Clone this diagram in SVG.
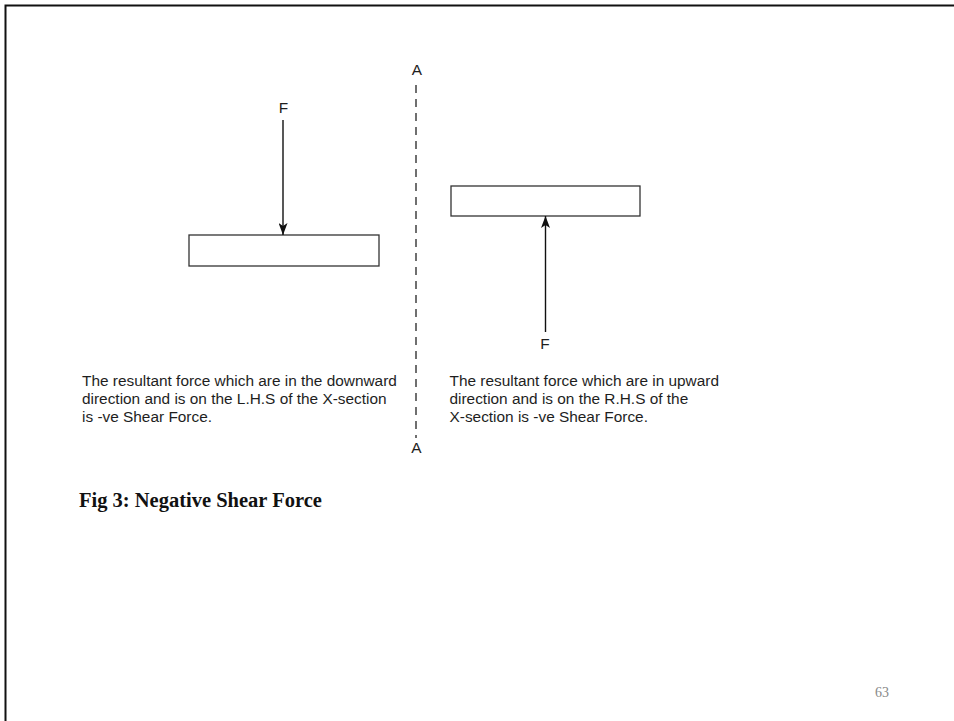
<svg xmlns="http://www.w3.org/2000/svg" width="954" height="721" viewBox="0 0 954 721">
<style>
.lbl{font-family:"Liberation Sans",Arial,sans-serif;font-size:15.4px;fill:#1e1e1e}
.mid{text-anchor:middle}
.beam{fill:#fff;stroke:#333;stroke-width:1.3}
.force{stroke:#111;stroke-width:1.4;fill:none}
.section{stroke:#333;stroke-width:1.4;stroke-dasharray:8 6;fill:none}
.cap{font-family:"Liberation Serif","Times New Roman",serif;font-size:20.5px;font-weight:bold;fill:#111}
.pg{font-family:"Liberation Serif","Times New Roman",serif;font-size:14px;fill:#888}
</style>
<defs>
<marker id="ah" viewBox="0 0 12 9" refX="12" refY="4.5" markerWidth="12" markerHeight="9" markerUnits="userSpaceOnUse" orient="auto">
<path d="M0,0 L12,4.5 L0,9 L3,4.5 Z" fill="#111"/>
</marker>
</defs>
<rect width="954" height="721" fill="#fff"/>
<g id="frame">
<path d="M5.5,721 V5.5 H954" fill="none" stroke="#111" stroke-width="2"/>
</g>
<g id="section-AA">
<text class="lbl mid" x="417" y="75">A</text>
<text class="lbl mid" x="416.5" y="453">A</text>
</g>
<g id="beam-left">
<rect class="beam" x="189" y="235" width="190" height="31"/>
<text class="lbl mid" x="283.5" y="113">F</text>
</g>
<g id="beam-right">
<rect class="beam" x="451" y="186" width="189" height="30"/>
<text class="lbl mid" x="545" y="349">F</text>
</g>
<g id="connectors">
<line class="section" x1="416" y1="85" x2="416" y2="438"/>
<line class="force" x1="283" y1="120" x2="283" y2="235" marker-end="url(#ah)"/>
<line class="force" x1="545.5" y1="332" x2="545.5" y2="216" marker-end="url(#ah)"/>
</g>
<g id="text-left">
<text class="lbl" x="82" y="386">The resultant force which are in the downward</text>
<text class="lbl" x="82" y="403.8">direction and is on the L.H.S of the X-section</text>
<text class="lbl" x="82" y="421.6">is -ve Shear Force.</text>
</g>
<g id="text-right">
<text class="lbl" x="449.5" y="386">The resultant force which are in upward</text>
<text class="lbl" x="449.5" y="403.8">direction and is on the R.H.S of the</text>
<text class="lbl" x="449.5" y="421.6">X-section is -ve Shear Force.</text>
</g>
<g id="caption">
<text class="cap" x="79" y="507">Fig 3: Negative Shear Force</text>
</g>
<g id="page-number">
<text class="pg" x="875" y="697">63</text>
</g>
</svg>
